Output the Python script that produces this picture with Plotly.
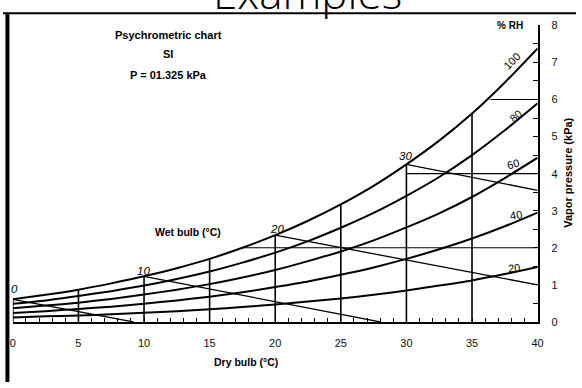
import plotly.graph_objects as go

# ---- data ----
dry_bulb = [0, 2.5, 5, 7.5, 10, 12.5, 15, 17.5, 20, 22.5, 25, 27.5, 30, 32.5, 35, 37.5, 40]
rh100 = [0.61, 0.73, 0.87, 1.04, 1.23, 1.45, 1.70, 2.00, 2.34, 2.73, 3.17, 3.67, 4.25, 4.89, 5.62, 6.46, 7.38]
rh80 = [0.49, 0.58, 0.70, 0.83, 0.98, 1.16, 1.36, 1.60, 1.87, 2.18, 2.54, 2.94, 3.40, 3.91, 4.50, 5.17, 5.90]
rh60 = [0.37, 0.44, 0.52, 0.62, 0.74, 0.87, 1.02, 1.20, 1.40, 1.64, 1.90, 2.20, 2.55, 2.93, 3.37, 3.88, 4.43]
rh40 = [0.24, 0.29, 0.35, 0.41, 0.49, 0.58, 0.68, 0.80, 0.94, 1.09, 1.27, 1.47, 1.70, 1.96, 2.25, 2.58, 2.95]
rh20 = [0.12, 0.15, 0.17, 0.21, 0.25, 0.29, 0.34, 0.40, 0.47, 0.55, 0.63, 0.73, 0.85, 0.98, 1.12, 1.29, 1.48]
rh_labels = ["100", "80", "60", "40", "20"]

wet_bulb = [0, 10, 20, 30]
wet_start_p = [0.61, 1.23, 2.34, 4.25]
wet_end_t = [9.2, 28.0, 40, 40]
wet_end_p = [0.0, 0.0, 1.0, 3.55]

dry_lines = [0, 5, 10, 15, 20, 25, 30, 35]
press_lines = [2, 4, 6]
press_start_t = [17.4, 30, 36.4]

x_ticks = [0, 5, 10, 15, 20, 25, 30, 35, 40]
y_ticks = [0, 1, 2, 3, 4, 5, 6, 7, 8]

W, H = 582, 388
FONT = "Liberation Sans"


def px(x):
    return x / W


def py(y):
    return 1 - y / H


fig = go.Figure()

sat = dict(zip(dry_bulb, rh100))

# dry-bulb verticals
vx, vy = [], []
for t in dry_lines:
    vx += [t, t, None]
    vy += [0, sat[t], None]
fig.add_trace(go.Scatter(x=vx, y=vy, mode="lines", line=dict(color="black", width=1.6),
                         hoverinfo="skip", showlegend=False))

# vapour-pressure horizontals
hx, hy = [], []
for p, t0 in zip(press_lines, press_start_t):
    hx += [t0, 40, None]
    hy += [p, p, None]
fig.add_trace(go.Scatter(x=hx, y=hy, mode="lines", line=dict(color="black", width=1.1),
                         hoverinfo="skip", showlegend=False))

# wet-bulb lines
wx, wy = [], []
for t, p0, t1, p1 in zip(wet_bulb, wet_start_p, wet_end_t, wet_end_p):
    wx += [t, t1, None]
    wy += [p0, p1, None]
fig.add_trace(go.Scatter(x=wx, y=wy, mode="lines", line=dict(color="black", width=1.3),
                         hoverinfo="skip", showlegend=False))

# RH curves
for name, ys in zip(rh_labels, [rh100, rh80, rh60, rh40, rh20]):
    fig.add_trace(go.Scatter(x=dry_bulb, y=ys, mode="lines", name=name,
                             line=dict(color="black", width=2, shape="spline", smoothing=0.6),
                             hoverinfo="skip", showlegend=False))

fig.update_layout(
    width=W, height=H,
    margin=dict(l=0, r=0, t=0, b=0),
    paper_bgcolor="white", plot_bgcolor="rgba(0,0,0,0)",
    showlegend=False,
    xaxis=dict(domain=[10 / W, 543 / W], range=[0, 40], showgrid=False, zeroline=False,
               showline=True, linecolor="black", linewidth=1.6,
               tickmode="array", tickvals=x_ticks, ticks="inside", ticklen=4, tickwidth=1.2,
               tickcolor="black",
               minor=dict(dtick=1, ticks="inside", ticklen=4, tickwidth=1.2, tickcolor="black"),
               tickfont=dict(family=FONT, size=11, color="#111"), ticklabelstandoff=10),
    yaxis=dict(domain=[(H - 326) / H, (H - 20) / H], range=[0, 8], side="right",
               anchor="x", showgrid=False, zeroline=False,
               showline=True, linecolor="black", linewidth=1.6,
               tickmode="array", tickvals=y_ticks, ticks="inside", ticklen=5, tickwidth=1.2,
               tickcolor="black",
               minor=dict(dtick=0.5, ticks="inside", ticklen=5, tickwidth=1.2, tickcolor="black"),
               tickfont=dict(family=FONT, size=11, color="#111"), ticklabelstandoff=10),
)


def dx(p):
    return (p - 10) / ((543 - 10) / 40)


def dy(p):
    return (326 - p) / ((326 - 20) / 8)


ann = []


def ptxt(text, x, y, size=11, angle=0, bold=True, italic=False, family=FONT, color="black"):
    t = text
    if bold:
        t = "<b>" + t + "</b>"
    if italic:
        t = "<i>" + t + "</i>"
    ann.append(dict(text=t, x=px(x), y=py(y), xref="paper", yref="paper", showarrow=False,
                    xanchor="center", yanchor="middle", textangle=angle,
                    font=dict(family=family, size=size, color=color)))


def dtxt(text, x, y, size=11, angle=0, italic=False):
    t = "<i>" + text + "</i>" if italic else text
    ann.append(dict(text=t, x=dx(x), y=dy(y), xref="x", yref="y", showarrow=False,
                    xanchor="center", yanchor="middle", textangle=angle,
                    font=dict(family=FONT, size=size, color="black")))


ptxt("Psychrometric chart", 168, 30, size=11)
ptxt("SI", 168, 50, size=11)
ptxt("P = 01.325 kPa", 168, 71, size=11)
ptxt("Wet bulb (°C)", 188, 233, size=10.5)
ptxt("Dry bulb (°C)", 247, 367, size=10.5)
ptxt("% RH", 515, 20, size=10)
ptxt("Vapor pressure (kPa)", 574, 172, size=11, angle=-90)

# RH labels
dtxt("100", 517, 57, angle=-45)
dtxt("80", 521, 114, angle=-40)
dtxt("60", 518, 163, angle=-15)
dtxt("40", 521, 216, angle=-8)
dtxt("20", 519, 270, angle=-5)
# wet bulb labels
for lab, (x, y) in zip([str(v) for v in wet_bulb], [(12, 292), (143, 273), (278, 230), (409, 155)]):
    dtxt(lab, x, y, size=11.5, italic=True)

# slide title (cut off at top)
ann.append(dict(text="Examples", x=px(309), y=py(7), xref="paper", yref="paper", showarrow=False,
                xanchor="center", yanchor="bottom", yshift=-11,
                font=dict(family="Open Sans", size=44, color="black", weight=300)))

fig.update_layout(annotations=ann)

# slide frame lines
fig.add_shape(type="line", xref="paper", yref="paper", x0=px(0), x1=1, y0=py(7.5), y1=py(7.5),
              line=dict(color="black", width=2))
fig.add_shape(type="line", xref="paper", yref="paper", x0=px(4.5), x1=px(4.5), y0=0, y1=py(7),
              line=dict(color="black", width=4))

post = (
    "document.documentElement.style.margin='0';"
    "document.body.style.margin='0';"
    "document.body.style.overflow='hidden';"
)

fig.write_html("out.html", config=dict(displayModeBar=False), post_script=post)
